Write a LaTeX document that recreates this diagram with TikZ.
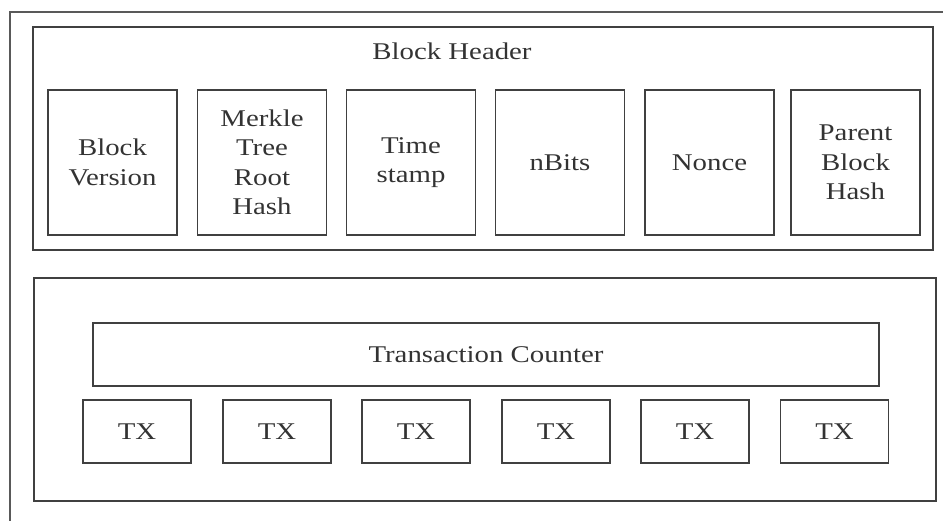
\documentclass[tikz,border=0pt]{standalone}
\usepackage{fontspec}
\setmainfont{Liberation Serif}[FakeStretch=1.2]
\begin{document}
\begin{tikzpicture}[x=1pt,y=-1pt,
    frame/.style={draw=black!75, line width=1.8pt},
    field/.style={frame, minimum width=129, minimum height=145, align=center, inner sep=0pt},
    txbox/.style={frame, minimum width=108, minimum height=63, inner sep=0pt},
    every node/.style={text=black!80, font=\fontsize{24}{29.5}\selectfont}]
        \clip (0,0) rectangle (943,520);

        % outer page frame, cut off at the right and the bottom
        \draw[draw=black!65, line width=2pt] (10,12) rectangle (960,540);

        % block header
        \node[frame, minimum width=900, minimum height=223] (Header) at (483,138.5) {};
        \node[anchor=base] (HeaderTitle) at (452,59) {Block Header};

        \node[field] (Version) at (112.5,162.5) {Block\\Version};
        \node[field] (Merkle) at (262,162.5) {Merkle\\Tree\\Root\\Hash};
        \node[field] (Time) at (411,162.5) {Time\\stamp};
        \node[field] (nBits) at (560,162.5) {nBits};
        \node[field] (Nonce) at (709.5,162.5) {Nonce};
        \node[field] (Parent) at (855.5,162.5) {Parent\\Block\\Hash};

        % block body
        \node[frame, minimum width=902, minimum height=223] (Body) at (485,389.5) {};
        \node[frame, minimum width=786, minimum height=63] (Counter) at (486,354.5) {Transaction Counter};

        \foreach \x [count=\i] in {137,277,416,556,695,834.5}
            \node[txbox] (TX\i) at (\x,431.5) {TX};
    \end{tikzpicture}
\end{document}
